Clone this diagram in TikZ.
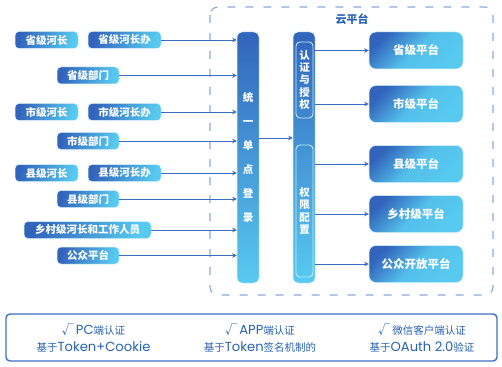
\documentclass[tikz,border=0pt]{standalone}
\usepackage{fontspec}
\setmainfont{Noto Sans CJK SC}
\newfontfamily\latin{Poppins}[Scale=1.25]
\usetikzlibrary{arrows.meta,positioning}
\definecolor{cdark}{RGB}{50,100,188}
\definecolor{clight}{RGB}{88,202,240}
\definecolor{carrow}{RGB}{58,110,192}
\definecolor{cdash}{RGB}{140,170,215}
\definecolor{ctext}{RGB}{38,98,178}
\tikzset{
  src/.style  ={rectangle, rounded corners=4pt, top color=cdark, bottom color=clight,
                shading angle=75, draw=clight!25, line width=0.5pt, inner sep=0pt,
                minimum height=17pt, text=white, font=\fontsize{10.5}{12}\selectfont\bfseries},
  bar/.style  ={rectangle, rounded corners=5pt, top color=cdark, bottom color=clight,
                draw=clight!25, line width=0.5pt, minimum width=22pt, minimum height=251pt,
                inner sep=0pt, align=center, text=white,
                font=\fontsize{10.5}{24}\selectfont\bfseries},
  inbox/.style={rectangle, rounded corners=4pt, draw=clight!35, line width=0.9pt,
                minimum width=17pt, inner sep=0pt, align=center, text=white,
                font=\fontsize{10.5}{12.3}\selectfont\bfseries},
  plat/.style ={rectangle, rounded corners=7pt, top color=cdark, bottom color=clight,
                middle color=clight!90!cdark, shading angle=45, draw=clight!25,
                line width=0.5pt, minimum width=94pt, minimum height=37pt, inner sep=0pt,
                text=white, font=\fontsize{11.5}{13}\selectfont\bfseries},
  ar/.style   ={-{Stealth[length=4.5pt,width=4.5pt]}, draw=carrow, line width=0.8pt},
  note/.style ={align=center, text=ctext, font=\fontsize{10.5}{17}\selectfont}
}
\begin{document}
\begin{tikzpicture}[x=1pt, y=-1pt]
\useasboundingbox (0,0) rectangle (502,366);
% cloud area
\draw[cdash, line width=1.1pt, dash pattern=on 8pt off 10pt, rounded corners=8pt]
  (210,7) rectangle (493,295);
\node[text=ctext, font=\fontsize{11}{13}\selectfont\bfseries] (cloud) at (352,19) {云平台};
% users
\node[src, minimum width=63pt] (pChief)  at (46.5,40)  {省级河长};
\node[src, minimum width=73pt] (pOffice) at (124.5,40) {省级河长办};
\node[src, minimum width=62pt] (pDept)   at (88,75.5)  {省级部门};
\node[src, minimum width=63pt] (cChief)  at (46.5,112) {市级河长};
\node[src, minimum width=73pt] (cOffice) at (124.5,112) {市级河长办};
\node[src, minimum width=62pt] (cDept)   at (88,141)   {市级部门};
\node[src, minimum width=63pt] (kChief)  at (46.5,173) {县级河长};
\node[src, minimum width=73pt] (kOffice) at (124.5,173) {县级河长办};
\node[src, minimum width=62pt] (kDept)   at (88,199)   {县级部门};
\node[src, minimum width=127pt] (vStaff) at (87.5,230) {乡村级河长和工作人员};
\node[src, minimum width=62pt] (pub)     at (88,255.5) {公众平台};
% login and access bars
\node[bar] (sso) at (248,157.5) {统\\一\\单\\点\\登\\录};
\node[bar] (acl) at (304,157.5) {};
\node[inbox, minimum height=76pt]  (authz)  at (304.5,80)  {认\\证\\与\\授\\权};
\node[inbox, minimum height=132pt] (config) at (304.5,211) {权\\限\\配\\置};
% platforms
\node[plat] (plP)   at (416,50.5) {省级平台};
\node[plat] (plC)   at (416,104)  {市级平台};
\node[plat] (plK)   at (416,164)  {县级平台};
\node[plat] (plV)   at (416,214)  {乡村级平台};
\node[plat] (plPub) at (416,264)  {公众开放平台};
\coordinate (hop) at (0,138);
\foreach \s in {pOffice,pDept,cOffice,cDept,kOffice,kDept,vStaff,pub}
  \draw[ar] (\s.east) -- (\s.east -| sso.west);
\draw[ar] (sso.east |- hop) -- (acl.west |- hop);
\foreach \t in {plP,plC,plK,plV,plPub}
  \draw[ar] (\t.west -| acl.east) -- (\t.west);
% login modes
\node[draw=carrow, line width=1.4pt, rounded corners=4pt, minimum width=491pt,
  minimum height=47pt] (modes) at (251.5,337.5) {};
\node[note] (pc)  at (93.5,338.5) {{\large√}{\latin\,PC}端认证\\基于{\latin Token+Cookie}};
\node[note] (app) at (260,338.5)  {{\large√}{\latin\,APP}端认证\\基于{\latin Token}签名机制的};
\node[note] (wx)  at (422,338.5)  {{\large√}\ 微信客户端认证\\基于{\latin OAuth 2.0}验证};
\end{tikzpicture}
\end{document}
